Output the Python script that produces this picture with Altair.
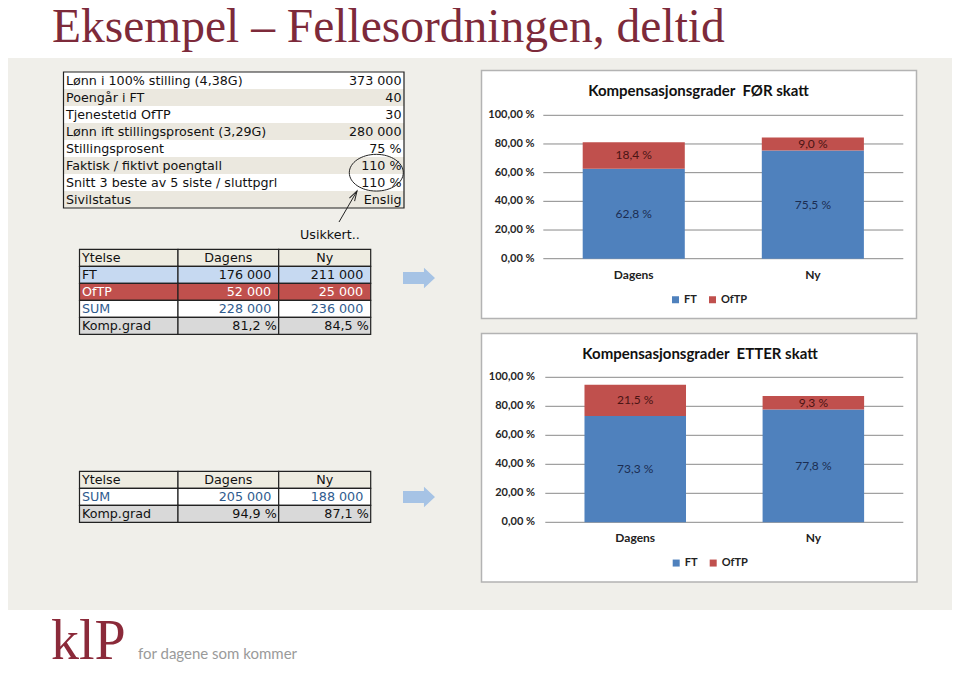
import altair as alt
import pandas as pd

# ---------------- data ----------------
title_text = "Eksempel \u2013 Fellesordningen, deltid"

t1_labels = [
    "Lønn i 100% stilling (4,38G)",
    "Poengår i FT",
    "Tjenestetid OfTP",
    "Lønn ift stillingsprosent (3,29G)",
    "Stillingsprosent",
    "Faktisk / fiktivt poengtall",
    "Snitt 3 beste av 5 siste / sluttpgrl",
    "Sivilstatus",
]
t1_values = ["373 000", "40", "30", "280 000", "75 %", "110 %", "110 %", "Enslig"]
note_text = "Usikkert.."

t2_rows = ["Ytelse", "FT", "OfTP", "SUM", "Komp.grad"]
t2_dagens = ["Dagens", "176 000", "52 000", "228 000", "81,2 %"]
t2_ny = ["Ny", "211 000", "25 000", "236 000", "84,5 %"]

t3_rows = ["Ytelse", "SUM", "Komp.grad"]
t3_dagens = ["Dagens", "205 000", "94,9 %"]
t3_ny = ["Ny", "188 000", "87,1 %"]

scenarios = ["Dagens", "Ny"]
series = ["FT", "OfTP"]
before_ft = [0.628, 0.755]
before_oftp = [0.184, 0.090]
after_ft = [0.733, 0.778]
after_oftp = [0.215, 0.093]

y_ticks = [0.0, 0.2, 0.4, 0.6, 0.8, 1.0]
y_tick_labels = ["0,00 %", "20,00 %", "40,00 %", "60,00 %", "80,00 %", "100,00 %"]

chart_titles = ["Kompensasjonsgrader\u00a0 FØR skatt", "Kompensasjonsgrader\u00a0 ETTER skatt"]
logo_text = "klP"
tagline = "for dagene som kommer"

# ---------------- styles / layout ----------------
OX, OY = 8, 8
W, H = 944, 664
XS = alt.Scale(domain=[OX, OX + W], range=[0, W], nice=False, zero=False)
YS = alt.Scale(domain=[OY, OY + H], range=[0, H], nice=False, zero=False)

BLUE, RED = "#4f81bd", "#c0504d"
GRID = "#8a8a8a"
TITLE_RED = "#7d2a3a"
TFONT = "DejaVu Sans"
TSIZE = 12.7
CFONT = "Lato"

texts = []


def T(x, y, s, font, size, color, align="left", weight="normal", baseline="middle"):
    texts.append(dict(x=x, y=y, text=s, font=font, size=size, color=color,
                      align=align, weight=weight, baseline=baseline))


rects_bg, rects_tab = [], []


def R(lst, x, x2, y, y2, fill, stroke="transparent", sw=0):
    lst.append(dict(x=x, x2=x2, y=y, y2=y2, fill=fill, stroke=stroke, sw=sw))


# background
R(rects_bg, OX, OX + W, OY, OY + H, "#ffffff")
R(rects_bg, OX, OX + W, 58, 610, "#f0efea")
# chart frames
R(rects_bg, 481.5, 916.5, 70.5, 318.5, "#ffffff", "#b3b3b3", 1.5)
R(rects_bg, 481.5, 917, 333.5, 582, "#ffffff", "#b3b3b3", 1.5)

# page title
T(52, 42, title_text, "Liberation Serif", 47.5, TITLE_RED, baseline="alphabetic")

# table 1
t1_left, t1_right, t1_top, t1_h = 63.5, 404, 72, 17
for i, (lab, val) in enumerate(zip(t1_labels, t1_values)):
    y = t1_top + i * t1_h
    R(rects_tab, t1_left, t1_right, y, y + t1_h, "#ffffff" if i % 2 == 0 else "#ebe8df")
    T(66, y + t1_h / 2 + 0.5, lab, TFONT, TSIZE, "#111111")
    T(401.5, y + t1_h / 2 + 0.5, val, TFONT, TSIZE, "#111111", align="right")
R(rects_tab, t1_left, t1_right, t1_top, t1_top + t1_h * len(t1_labels), "transparent", "#222222", 1.2)

T(300, 235, note_text, TFONT, TSIZE, "#111111")

# tables 2 and 3
cols = [79.5, 178, 278.7, 370.7]
row_fill = {"Ytelse": "#eeece1", "FT": "#c6d9f1", "OfTP": "#c0504d", "SUM": "#ffffff", "Komp.grad": "#d9d9d9"}
row_txt = {"Ytelse": "#111111", "FT": "#111111", "OfTP": "#ffffff", "SUM": "#2f5b8e", "Komp.grad": "#111111"}


def table(rows, dag, ny, top, h=17):
    for i, (r, d, n) in enumerate(zip(rows, dag, ny)):
        y = top + i * h
        for c in range(3):
            R(rects_tab, cols[c], cols[c + 1], y, y + h, row_fill[r], "#222222", 1.2)
        yc = y + h / 2 + 0.5
        T(82, yc, r, TFONT, TSIZE, row_txt[r])
        if i == 0:
            T((cols[1] + cols[2]) / 2, yc, d, TFONT, TSIZE, row_txt[r], align="center")
            T((cols[2] + cols[3]) / 2, yc, n, TFONT, TSIZE, row_txt[r], align="center")
        else:
            pad = 2 if d.endswith("%") else 7.5
            T(cols[2] - pad, yc, d, TFONT, TSIZE, row_txt[r], align="right")
            T(cols[3] - pad, yc, n, TFONT, TSIZE, row_txt[r], align="right")


table(t2_rows, t2_dagens, t2_ny, 249.3)
table(t3_rows, t3_dagens, t3_ny, 471.3)

# chart titles
T(698.5, 91, chart_titles[0], CFONT, 15, "#111111", align="center", weight="bold")
T(700, 353.5, chart_titles[1], CFONT, 15, "#111111", align="center", weight="bold")

# logo
T(51, 659, logo_text, "Liberation Serif", 56, "#8b2a3a", baseline="alphabetic")
T(138, 659, tagline, CFONT, 15, "#9a9a9a", baseline="alphabetic")

tdf = pd.DataFrame(texts)


def rect_layer(lst):
    return alt.Chart(pd.DataFrame(lst)).mark_rect().encode(
        x=alt.X("x:Q", scale=XS, axis=None), x2="x2:Q",
        y=alt.Y("y:Q", scale=YS, axis=None), y2="y2:Q",
        fill=alt.Fill("fill:N", scale=None),
        stroke=alt.Stroke("stroke:N", scale=None),
        strokeWidth=alt.StrokeWidth("sw:Q", scale=None),
    )


text_layers = []
for (font, align, weight, baseline), g in tdf.groupby(["font", "align", "weight", "baseline"]):
    text_layers.append(
        alt.Chart(g.reset_index(drop=True)).mark_text(
            font=font, align=align, fontWeight=weight, baseline=baseline
        ).encode(
            x=alt.X("x:Q", scale=XS, axis=None),
            y=alt.Y("y:Q", scale=YS, axis=None),
            text="text:N",
            size=alt.Size("size:Q", scale=None),
            color=alt.Color("color:N", scale=None),
        )
    )


def symbol(x, y, shape, size, color, filled, angle=0, sw=1.0):
    kw = dict(shape=shape, size=size, filled=filled, color=color, opacity=1, strokeWidth=sw)
    if angle:
        kw["angle"] = angle
    return alt.Chart(pd.DataFrame({"x": [x], "y": [y]})).mark_point(**kw).encode(
        x=alt.X("x:Q", scale=XS, axis=None), y=alt.Y("y:Q", scale=YS, axis=None))


ELLIPSE = "M-1,0A1,0.68,0,1,1,1,0A1,0.68,0,1,1,-1,0Z"
HEAD = "M-0.6,1L0,-1L0.6,1"
BLOCK = "M-1,-0.37L0.31,-0.37L0.31,-0.64L1,0L0.31,0.64L0.31,0.37L-1,0.37Z"

callout_line = alt.Chart(pd.DataFrame({"x": [339], "y": [222], "x2": [357], "y2": [191]})).mark_rule(
    color="#222222", strokeWidth=1).encode(
    x=alt.X("x:Q", scale=XS, axis=None), x2="x2:Q",
    y=alt.Y("y:Q", scale=YS, axis=None), y2="y2:Q")

canvas = alt.layer(
    rect_layer(rects_bg),
    rect_layer(rects_tab),
    symbol(376.3, 172.7, ELLIPSE, 54 ** 2, "#222222", False),
    callout_line,
    symbol(354.5, 195.3, HEAD, 100, "#222222", False, angle=30),
    symbol(419, 278, BLOCK, 32 ** 2, "#a6c3e5", True, sw=0),
    symbol(419, 497, BLOCK, 32 ** 2, "#a6c3e5", True, sw=0),
    *text_layers,
)


def bar_chart(ft, oftp, gx0, gx1, y_zero, y_full, lab_right, xlab_y, leg_x, leg_y):
    df = pd.DataFrame({
        "scenario": scenarios * 2,
        "ytelse": [series[0]] * len(scenarios) + [series[1]] * len(scenarios),
        "ord": [0] * len(scenarios) + [1] * len(scenarios),
        "value": list(ft) + list(oftp),
    })
    ticks = pd.DataFrame({"v": y_ticks, "label": y_tick_labels})
    ys = alt.Scale(domain=[0, 1], range=[y_zero - OY, y_full - OY], nice=False, zero=False)
    xs = alt.Scale(domain=scenarios, range=[gx0 - OX, gx1 - OX], paddingInner=0.43, paddingOuter=0.22)
    cs = alt.Scale(domain=series, range=[BLUE, RED])

    grid = alt.Chart(ticks).mark_rule(color=GRID, strokeWidth=1).encode(
        y=alt.Y("v:Q", scale=ys, axis=None),
        x=alt.value(gx0 - OX), x2=alt.value(gx1 - OX))
    tlab = alt.Chart(ticks).mark_text(
        align="right", baseline="middle", font=CFONT, fontSize=11, fontWeight="bold", color="#262626"
    ).encode(y=alt.Y("v:Q", scale=ys, axis=None), x=alt.value(lab_right - OX), text="label:N")
    bars = alt.Chart(df).mark_bar().encode(
        x=alt.X("scenario:N", scale=xs, axis=None),
        y=alt.Y("value:Q", scale=ys, axis=None, stack="zero"),
        color=alt.Color("ytelse:N", scale=cs, legend=alt.Legend(
            title=None, orient="none", legendX=leg_x - OX, legendY=leg_y - OY,
            direction="horizontal", symbolType="square", symbolSize=49, symbolStrokeWidth=0,
            labelFont=CFONT, labelFontSize=11, labelFontWeight="bold", labelColor="#222222",
            columnPadding=10, labelOffset=3, padding=0)),
        order=alt.Order("ord:Q"),
    )
    base_lbl = alt.Chart(df).transform_stack(
        stack="value", groupby=["scenario"], as_=["v0", "v1"], sort=[alt.SortField("ord", order="ascending")]
    ).transform_calculate(
        mid="(datum.v0 + datum.v1) / 2",
        lab="replace(format(datum.value * 100, '.1f'), '.', ',') + ' %'",
    )
    lbl_ft = base_lbl.transform_filter(alt.datum.ytelse == series[0]).mark_text(
        font=CFONT, fontSize=12, color="#1b2d52", baseline="middle").encode(
        x=alt.X("scenario:N", scale=xs, axis=None), y=alt.Y("mid:Q", scale=ys, axis=None), text="lab:N")
    lbl_of = base_lbl.transform_filter(alt.datum.ytelse == series[1]).mark_text(
        font=CFONT, fontSize=12, color="#4a1414", baseline="middle").encode(
        x=alt.X("scenario:N", scale=xs, axis=None), y=alt.Y("mid:Q", scale=ys, axis=None), text="lab:N")
    xl = alt.Chart(pd.DataFrame({"scenario": scenarios})).mark_text(
        font=CFONT, fontSize=12, fontWeight="bold", color="#222222", baseline="middle").encode(
        x=alt.X("scenario:N", scale=xs, axis=None), y=alt.value(xlab_y - OY), text="scenario:N")
    return alt.layer(grid, tlab, bars, lbl_ft, lbl_of, xl)


chart1 = bar_chart(before_ft, before_oftp, 543.3, 903.3, 258.7, 115.3, 534.5, 274.7, 670, 294)
chart2 = bar_chart(after_ft, after_oftp, 545.3, 903.3, 522.3, 377.3, 535, 538.3, 670.7, 557.3)

chart = alt.layer(canvas, chart1, chart2).resolve_scale(
    x="independent", y="independent", color="independent"
).properties(
    width=W, height=H, padding=0, autosize=alt.AutoSizeParams(type="none"), background="#ffffff"
).configure_view(strokeWidth=0)

chart.save("out.html", embed_options={"renderer": "svg", "actions": False})
